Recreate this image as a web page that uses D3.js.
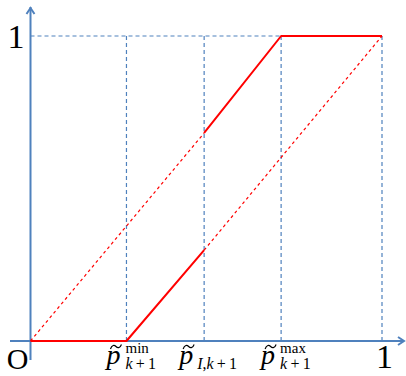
<!DOCTYPE html>
<html>
<head>
<meta charset="utf-8">
<script src="https://cdn.jsdelivr.net/npm/d3@7"></script>
<style>
  html, body { margin: 0; padding: 0; background: #fff; }
  svg { display: block; font-family: "Liberation Serif", "Times New Roman", serif; }
</style>
</head>
<body>
<div id="chart"></div>
<script>
// 数据
var guideX = [0.273, 0.494, 0.713, 1];          // 蓝色虚线竖线位置
var tickNames = ["min", "I", "max"];            // 横轴标签
var tickValues = [0.273, 0.494, 0.713];

// 红色实线 (两段)
var solidX1 = [0, 0.273, 0.494];
var solidY1 = [0, 0, 0.298];
var solidX2 = [0.494, 0.713, 1];
var solidY2 = [0.682, 1, 1];

// 红色虚线 (两段)
var dashX1 = [0, 0.494];
var dashY1 = [0, 0.682];
var dashX2 = [0.494, 1];
var dashY2 = [0.298, 1];

var W = 406, H = 376;
var blue = "#4f81bd";
var red = "#ff0000";

var svg = d3.select("#chart").append("svg")
  .attr("width", W)
  .attr("height", H);

var x = d3.scaleLinear().domain([0, 1]).range([30.5, 382]);
var y = d3.scaleLinear().domain([0, 1]).range([341, 36]);

function pts(xs, ys) {
  return xs.map(function (v, i) { return [x(v), y(ys[i])]; });
}
var line = d3.line();

// 蓝色虚线网格
svg.append("line")
  .attr("x1", x(0)).attr("x2", x(1))
  .attr("y1", y(1)).attr("y2", y(1))
  .attr("stroke", blue).attr("stroke-width", 1.2)
  .attr("stroke-dasharray", "4,3");

svg.selectAll(".guide")
  .data(guideX)
  .enter()
  .append("line")
  .attr("class", "guide")
  .attr("x1", function (d) { return x(d); })
  .attr("x2", function (d) { return x(d); })
  .attr("y1", y(1))
  .attr("y2", y(0))
  .attr("stroke", blue).attr("stroke-width", 1.2)
  .attr("stroke-dasharray", "4,3");

// 坐标轴
svg.append("line")
  .attr("x1", 10).attr("x2", 404)
  .attr("y1", y(0)).attr("y2", y(0))
  .attr("stroke", blue).attr("stroke-width", 2);
svg.append("line")
  .attr("x1", x(0)).attr("x2", x(0))
  .attr("y1", 360).attr("y2", 7)
  .attr("stroke", blue).attr("stroke-width", 2);

// 箭头
svg.append("path")
  .attr("d", "M" + (x(0) - 4) + ",14 L" + x(0) + ",8 L" + (x(0) + 4) + ",14")
  .attr("fill", "none").attr("stroke", blue).attr("stroke-width", 2);
svg.append("path")
  .attr("d", "M398," + (y(0) - 4) + " L404," + y(0) + " L398," + (y(0) + 4))
  .attr("fill", "none").attr("stroke", blue).attr("stroke-width", 2);

// 红色虚线
[[dashX1, dashY1], [dashX2, dashY2]].forEach(function (s) {
  svg.append("path")
    .attr("d", line(pts(s[0], s[1])))
    .attr("fill", "none")
    .attr("stroke", red)
    .attr("stroke-width", 1.2)
    .attr("stroke-dasharray", "3,3");
});

// 红色实线
[[solidX1, solidY1], [solidX2, solidY2]].forEach(function (s) {
  svg.append("path")
    .attr("d", line(pts(s[0], s[1])))
    .attr("fill", "none")
    .attr("stroke", red)
    .attr("stroke-width", 2)
    .attr("stroke-linejoin", "round");
});

// 数字标签
svg.append("text").attr("x", 16).attr("y", 48)
  .attr("text-anchor", "middle").style("font-size", "34px").text("1");
svg.append("text").attr("x", 17.5).attr("y", 369)
  .attr("text-anchor", "middle").style("font-size", "30px").text("O");
svg.append("text").attr("x", 384.5).attr("y", 368)
  .attr("text-anchor", "middle").style("font-size", "34px").text("1");

// 横轴的 p 标签
tickValues.forEach(function (v, i) {
  var name = tickNames[i];
  var left = x(v) - (name === "I" ? 24 : 19);
  var g = svg.append("g").attr("transform", "translate(" + left + ",0)");
  g.append("text").attr("x", -1).attr("y", 364)
    .style("font-size", "28px").style("font-style", "italic").text("p");
  // 波浪号
  g.append("path")
    .attr("d", "M3,349 C4.5,344.5 7,345 8.5,346.5 C10,348 12.5,348.5 14,344.5")
    .attr("fill", "none").attr("stroke", "#000").attr("stroke-width", 1.2);
  if (name === "I") {
    var sub = g.append("text").attr("x", 17).attr("y", 369).style("font-size", "16px");
    sub.append("tspan").style("font-style", "italic").text("I");
    sub.append("tspan").text(",");
    sub.append("tspan").style("font-style", "italic").text("k");
    sub.append("tspan").text("\u2009+\u20091");
  } else {
    g.append("text").attr("x", 18).attr("y", 353).style("font-size", "15px").text(name);
    var sub2 = g.append("text").attr("x", 18).attr("y", 369).style("font-size", "16px");
    sub2.append("tspan").style("font-style", "italic").text("k");
    sub2.append("tspan").text("\u2009+\u20091");
  }
});
</script>
</body>
</html>
